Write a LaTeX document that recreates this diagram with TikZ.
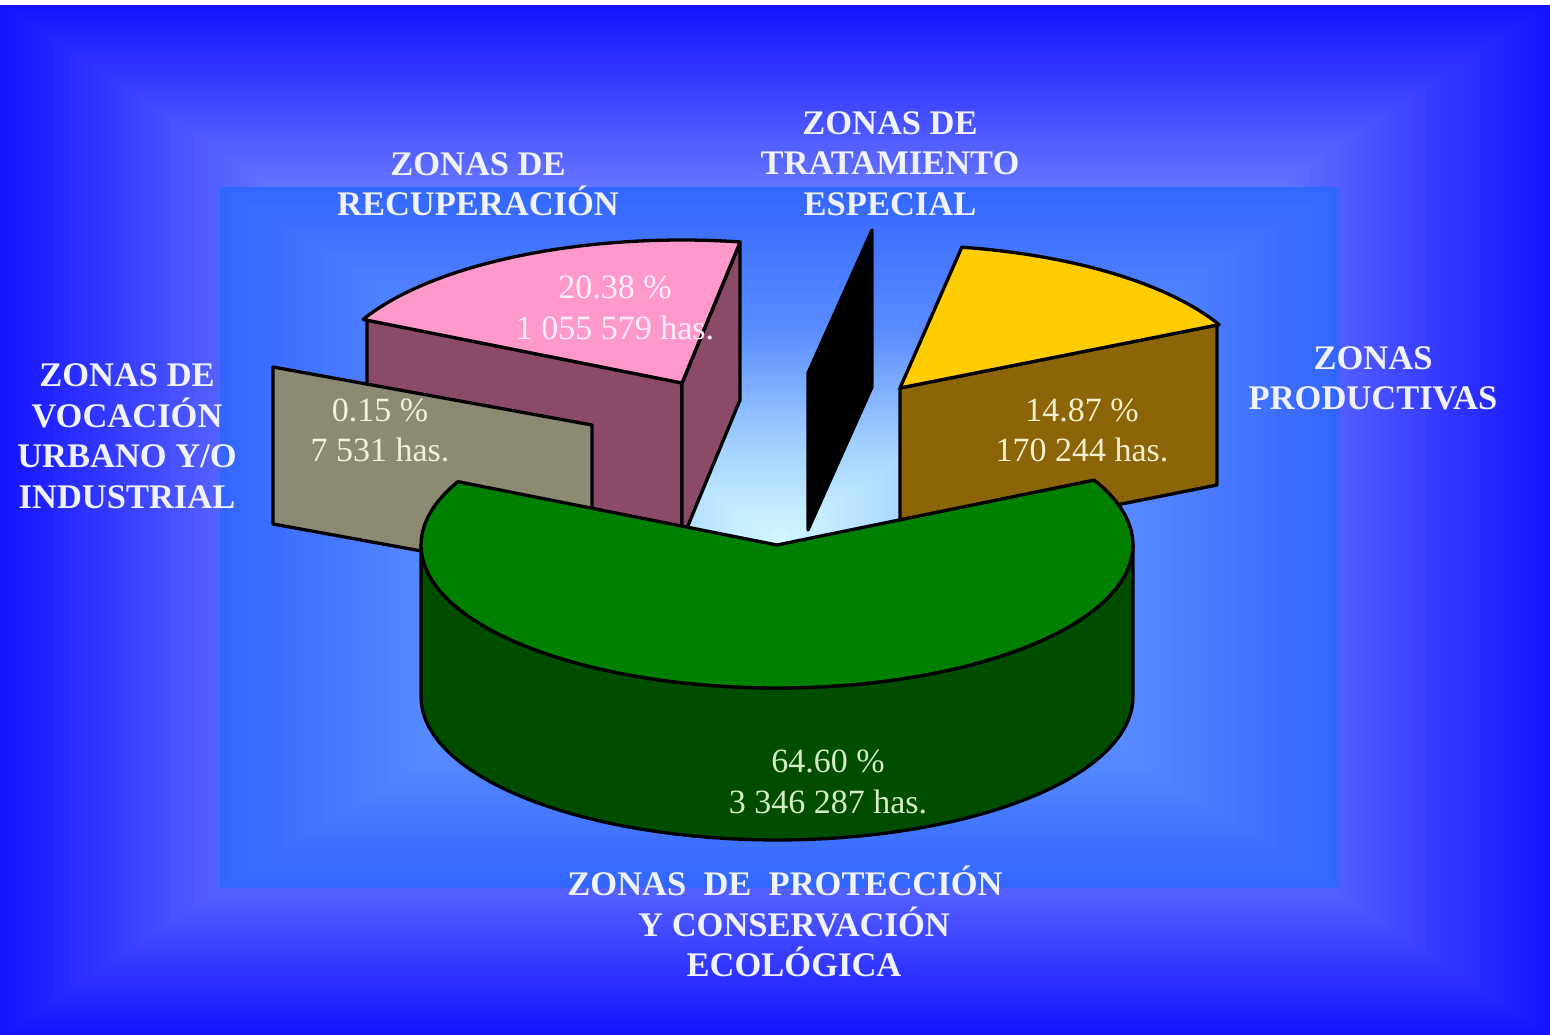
\documentclass[tikz,border=0pt]{standalone}
\usepackage{fontspec}
\setmainfont{Liberation Serif}
\definecolor{bgOut}{HTML}{1414FF}
\definecolor{bgIn}{HTML}{6878FF}
\definecolor{inA}{HTML}{3366FF}
\definecolor{inB}{HTML}{5A8CFF}
\definecolor{inC}{HTML}{9CCCFF}
\definecolor{inD}{HTML}{D4FAFF}
\definecolor{pinkTop}{HTML}{FF99CC}
\definecolor{pinkSide}{HTML}{8A4A68}
\definecolor{greyFace}{HTML}{8C8A72}
\definecolor{yellowTop}{HTML}{FFCC00}
\definecolor{brownFace}{HTML}{8B6508}
\definecolor{greenTop}{HTML}{008000}
\definecolor{greenSide}{HTML}{004D00}
\definecolor{labelWhite}{HTML}{F0F2FF}
\definecolor{txtPink}{HTML}{FFF0F8}
\definecolor{txtGrey}{HTML}{F2F0DC}
\definecolor{txtBrown}{HTML}{F4EFCF}
\definecolor{txtGreen}{HTML}{D4ECC4}
\def\rx{356}
\def\ry{143}
\tikzset{
  zone/.style={font=\fontsize{34.5}{40.5}\selectfont\bfseries, text=labelWhite, align=center, inner sep=0pt},
  val/.style={font=\fontsize{34}{40.5}\selectfont, align=center, inner sep=0pt},
  slice/.style={draw=black, line width=3.3pt, line join=round},
}
\begin{document}
\begin{tikzpicture}[x=1pt,y=-1pt]
\useasboundingbox (0,0) rectangle (1550,1035);
\fill[white] (0,0) rectangle (1550,1035);
% outer frame: rectangular gradient
\foreach \i in {0,...,36}{
  \pgfmathsetmacro\t{\i/100}
  \pgfmathtruncatemacro\p{100*\i/36}
  \fill[bgIn!\p!bgOut] ({775*\t},{5+515*\t}) rectangle ({1550-775*\t},{1035-515*\t});
}
% inner panel: rectangular gradient toward the centre
\foreach \i in {0,...,23}{
  \pgfmathsetmacro\t{\i/60}
  \pgfmathtruncatemacro\p{100*\i/24}
  \fill[inB!\p!inA] ({220+560*\t},{187+350*\t}) rectangle ({1340-560*\t},{888-350*\t});
}
\foreach \i in {24,...,41}{
  \pgfmathsetmacro\t{\i/60}
  \pgfmathtruncatemacro\p{100*(\i-24)/18}
  \fill[inC!\p!inB] ({220+560*\t},{187+350*\t}) rectangle ({1340-560*\t},{888-350*\t});
}
\foreach \i in {42,...,59}{
  \pgfmathsetmacro\t{\i/60}
  \pgfmathtruncatemacro\p{100*(\i-42)/18}
  \fill[inD!\p!inC] ({220+560*\t},{187+350*\t}) rectangle ({1340-560*\t},{888-350*\t});
}
% pink slice (recuperacion)
\path[slice, fill=pinkSide] (682,383) -- (367,320) -- (367,477) -- (682,540) -- cycle;
\path[slice, fill=pinkSide] (682,383) -- (740,243) -- (740,400) -- (682,540) -- cycle;
\path[slice, fill=pinkTop] (682,383) -- plot[domain=206.4:279.4, samples=40] ({682+\rx*cos(\x)},{383+\ry*sin(\x)}) -- cycle;
% black slice (tratamiento especial)
\path[slice, fill=black] (808,373) -- (872,230) -- (872,387) -- (808,530) -- cycle;
% yellow slice (productivas)
\path[slice, fill=brownFace] (900,388) -- (1217,325) -- (1217,485) -- (900,548) -- cycle;
\path[slice, fill=yellowTop] (900,388) -- plot[domain=280:333.7, samples=30] ({900+\rx*cos(\x)},{388+\ry*sin(\x)}) -- cycle;
% grey slice (vocacion urbano)
\path[slice, fill=greyFace] (592,425) -- (273,367) -- (273,524) -- (592,582) -- cycle;
% green slice (proteccion)
\path[slice, fill=greenSide] plot[domain=0:180, samples=60] ({777+\rx*cos(\x)},{545+\ry*sin(\x)}) -- plot[domain=180:0, samples=60] ({777+\rx*cos(\x)},{697+\ry*sin(\x)}) -- cycle;
\path[slice, fill=greenTop] (777,545) -- plot[domain=-27:206.3, samples=80] ({777+\rx*cos(\x)},{545+\ry*sin(\x)}) -- cycle;
% values
\node[val, text=txtPink] (valRec) at (615,308) {20.38 \%\\1 055 579 has.};
\node[val, text=txtGrey] (valVoc) at (380,430.5) {0.15 \%\\7 531 has.};
\node[val, text=txtBrown] (valProd) at (1082,430.5) {14.87 \%\\170 244 has.};
\node[val, text=txtGreen] (valProt) at (828,782) {64.60 \%\\3 346 287 has.};
% zone labels
\node[zone] (lblRec) at (478,184) {ZONAS DE\\RECUPERACIÓN};
\node[zone] (lblTrat) at (890,163.3) {ZONAS DE\\TRATAMIENTO\\ESPECIAL};
\node[zone] (lblVoc) at (127,436) {ZONAS DE\\VOCACIÓN\\URBANO Y/O\\INDUSTRIAL};
\node[zone] (lblProd) at (1373,378.5) {ZONAS\\PRODUCTIVAS};
\node[zone] (lblProt) at (794,921.5) {ZONAS\ \ DE\ \ PROTECCIÓN\hspace*{18pt}\\Y CONSERVACIÓN\\ECOLÓGICA};
\end{tikzpicture}
\end{document}
